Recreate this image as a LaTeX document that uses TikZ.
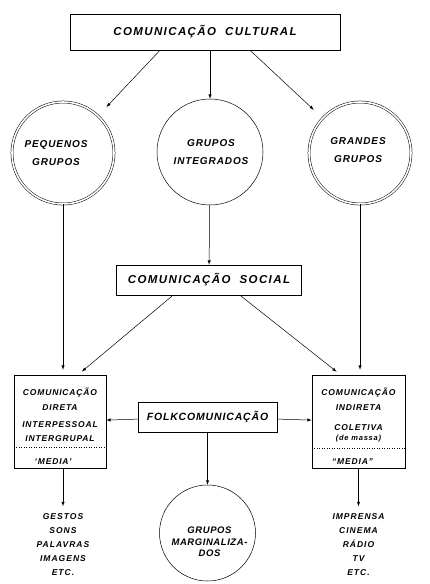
\documentclass[tikz,border=0pt]{standalone}
\usepackage{fontspec}
\setmainfont{Liberation Sans}
\newfontfamily\hand{Liberation Sans}
\newcommand{\hw}[3]{\hand\bfseries\itshape\fontsize{#1}{#2}\selectfont\addfontfeature{LetterSpace=#3}}
\begin{document}
\begin{tikzpicture}[x=1pt,y=-1pt, line width=0.5pt,
	box/.style={draw, rectangle, inner sep=0pt},
	ring/.style={draw, circle, double, double distance=1.6pt, inner sep=0pt},
	disc/.style={draw, circle, inner sep=0pt},
	big/.style={font=\hw{11.5}{14}{12}},
	folkt/.style={font=\hw{10.5}{14}{8}},
	mid/.style={font=\hw{10}{17.5}{9}, align=center},
	margt/.style={font=\hw{9.5}{11.5}{6}, align=center},
	small/.style={font=\hw{8.5}{15}{10}, align=center},
	lst/.style={font=\hw{8.5}{14}{12}, align=center}]%
	\useasboundingbox (0,0) rectangle (430,584);
	\coordinate (ccult) at (205,32);
	\coordinate (cpeq) at (63,153);
	\coordinate (cint) at (210,152);
	\coordinate (cgra) at (360,153);
	\coordinate (csoc) at (209,280);
	\coordinate (cdir) at (60,421.5);
	\coordinate (cind) at (358.5,421.5);
	\coordinate (cfolk) at (207.5,417);
	\coordinate (cmarg) at (207.5,533);
	\node[box, big, minimum width=270, minimum height=36] (cult) at (ccult) {COMUNICAÇÃO\ \ CULTURAL};
	\node[ring, minimum size=102] (peq) at (cpeq) {};
	\node[disc, minimum size=106] (int) at (cint) {};
	\node[ring, minimum size=102] (gra) at (cgra) {};
	\node[mid] (tpeq) at ([xshift=-7]peq) {PEQUENOS\\GRUPOS};
	\node[mid] (tint) at ([xshift=1]int) {GRUPOS\\INTEGRADOS};
	\node[mid] (tgra) at ([xshift=-2,yshift=3]gra) {GRANDES\\GRUPOS};
	\node[box, big, minimum width=185, minimum height=30] (soc) at (csoc) {COMUNICAÇÃO\ \ SOCIAL};
	\node[box, minimum width=92, minimum height=93] (dir) at (cdir) {};
	\node[box, minimum width=93, minimum height=93] (ind) at (cind) {};
	\node[box, folkt, minimum width=139, minimum height=30] (folk) at (cfolk) {FOLKCOMUNICAÇÃO};
	\node[disc, minimum size=96] (marg) at (cmarg) {};
	\node[margt] (tmarg) at ([xshift=2,yshift=-9]marg) {GRUPOS\\MARGINALIZA-\\DOS};
	% texto das caixas
	\node[small, anchor=north] (tdir) at ([yshift=-10]dir.north) {COMUNICAÇÃO\\DIRETA\\[2pt]INTERPESSOAL\\[-1pt]INTERGRUPAL};
	\node[small, anchor=north] (tind) at ([yshift=-10]ind.north) {COMUNICAÇÃO\\INDIRETA\\[5pt]COLETIVA\\[-5pt]{\fontsize{7.5}{8}\selectfont(de massa)}};
	\draw[dotted] ([yshift=21]dir.south west) -- ([yshift=21]dir.south east);
	\draw[dotted] ([yshift=20]ind.south west) -- ([yshift=20]ind.south east);
	\node[small] (mdir) at ([xshift=-7,yshift=7]dir.south) {‘MEDIA’};
	\node[small] (mind) at ([xshift=-6,yshift=7]ind.south) {“MEDIA”};
	\coordinate (adir) at ([xshift=3]dir.south);
	\coordinate (aind) at (ind.south);
	\node[lst, anchor=north] (ldir) at ([yshift=-42]adir) {GESTOS\\SONS\\PALAVRAS\\IMAGENS\\ETC.};
	\node[lst, anchor=north] (lind) at ([yshift=-42]aind) {IMPRENSA\\CINEMA\\RÁDIO\\TV\\ETC.};
	% setas
	\draw[-latex, shorten >=12pt] ([xshift=-45]cult.south) -- (peq);
	\draw[-latex] (cult.south -| int) -- (int);
	\draw[-latex, shorten >=12pt] ([xshift=45]cult.south) -- (gra);
	\draw[-latex] (int) -- (soc);
	\draw[-latex, shorten >=5pt] (peq.south) -- (peq.south |- dir.north);
	\draw[-latex, shorten >=5pt] (gra.south) -- (gra.south |- ind.north);
	\draw[-latex, shorten >=5pt] ([xshift=-36]soc.south) -- ([xshift=18]dir.north);
	\draw[-latex, shorten >=5pt] ([xshift=31]soc.south) -- ([xshift=-18]ind.north);
	\draw[-latex] (folk) -- (dir);
	\draw[-latex] (folk) -- (ind);
	\draw[-latex] (folk) -- (marg);
	\draw[-latex, shorten >=4pt] (adir) -- (adir |- ldir.north);
	\draw[-latex, shorten >=4pt] (aind) -- (aind |- lind.north);
\end{tikzpicture}
\end{document}
